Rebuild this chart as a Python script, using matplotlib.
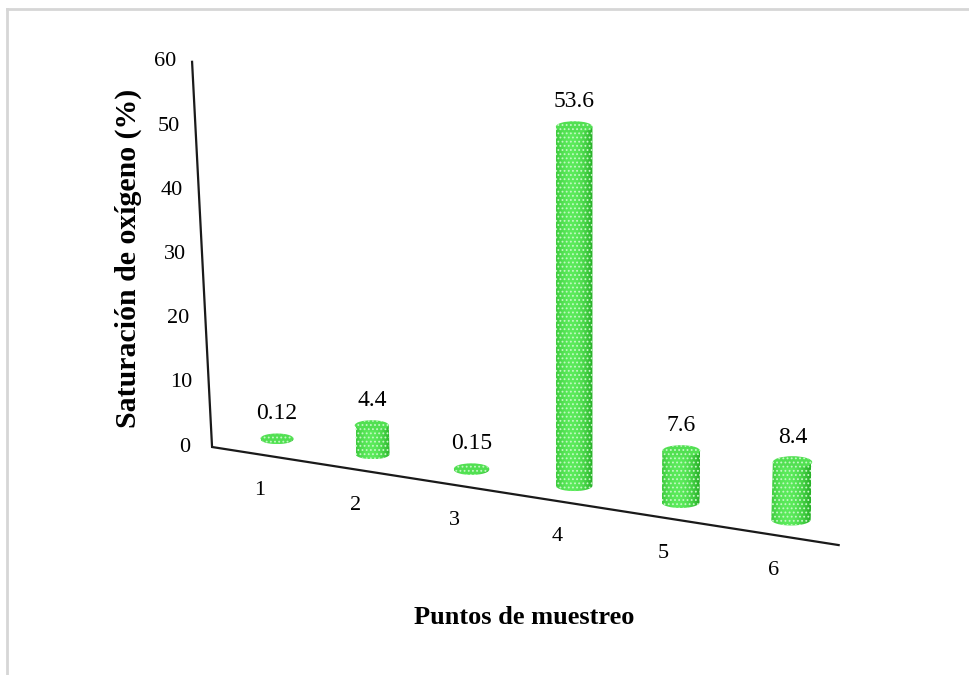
import numpy as np
import matplotlib.pyplot as plt
from matplotlib.patches import Ellipse, PathPatch
from matplotlib.path import Path

puntos = ['1', '2', '3', '4', '5', '6']
saturacion = [0.12, 4.4, 0.15, 53.6, 7.6, 8.4]
y_ticks = [0, 10, 20, 30, 40, 50, 60]

plt.rcParams['font.family'] = ['Liberation Serif', 'DejaVu Serif']
plt.rcParams['hatch.linewidth'] = 0.8

DOTS = '#c4f8c4'

# simple perspective for the 3-D floor: category u, value v, depth in px
K = 0.017
A = 90.745
X0 = 184.69
X_CORNER, Y_CORNER, SLOPE = 212, 447, 0.1565
U_WALL, U_END = 0.3, 6.42
DEPTH = 18


def g(u):
    return u / (1 - K * u)


def proj(u, v, depth=0.0):
    xb = X0 + A * g(u)
    lean = -0.333 * (4 - u) / 3.7
    scale = 6.42 + 0.075 * (u - U_WALL)
    return xb + lean * v, Y_CORNER + SLOPE * (xb - X_CORNER) - depth - scale * v


fig = plt.figure(figsize=(9.69, 6.75), dpi=100)
ax = fig.add_axes([0, 0, 1, 1])
ax.axis('off')

# light frame on top and left
ax.plot([7, 969], [9, 9], color='#d6d6d6', lw=2)
ax.plot([7, 7], [9, 675], color='#d6d6d6', lw=2)

# axes: vertical wall edge and floor front edge
x_top, y_top = proj(U_WALL, y_ticks[-1])
x_c, y_c = proj(U_WALL, 0)
x_e, y_e = proj(U_END, 0)
ax.plot([x_top, x_c, x_e], [y_top, y_c, y_e], color='#1a1a1a', lw=1.6,
        solid_joinstyle='miter')

for t in y_ticks:
    tx, ty = proj(U_WALL, t)
    ax.text(tx - 27, ty, str(t), ha='center', va='center', fontsize=16)

# horizontal shading across a cylinder body
prof = np.linspace(-1, 1, 64)
light = np.clip(1 - ((prof + 0.15) / 1.1) ** 2, 0, 1)
dark = np.array([0.16, 0.70, 0.16])
bright = np.array([0.36, 0.92, 0.36])
shade = (dark[None, :] + (bright - dark)[None, :] * light[:, None])[None, :, :]

for i, (lab, val) in enumerate(zip(puntos, saturacion)):
    u = i + 1
    bx, by = proj(u, 0, DEPTH)
    tx, ty = proj(u, val, DEPTH)
    w = 0.35 * A / (1 - K * u) ** 2
    h = 0.3 * w

    t = np.linspace(np.pi, 0, 40)
    verts = [(tx - w / 2, ty)]
    verts += list(zip(bx + w / 2 * np.cos(t), by + h / 2 * np.sin(t)))
    verts += [(tx + w / 2, ty), (tx - w / 2, ty)]
    body = PathPatch(Path(verts), facecolor='none', edgecolor='none')
    ax.add_patch(body)
    im = ax.imshow(shade, extent=(bx - w / 2, bx + w / 2, by + h / 2, ty),
                   aspect='auto', interpolation='bilinear', zorder=2)
    im.set_clip_path(body)
    ax.add_patch(PathPatch(Path(verts), facecolor=(0, 0, 0, 0), edgecolor=DOTS,
                           hatch='....', lw=0, zorder=3))
    ax.add_patch(Ellipse((tx, ty), w, h, facecolor='#52e052', edgecolor=DOTS,
                         hatch='....', lw=0, zorder=4))

    ax.text(tx, ty - 25, f'{val:g}', ha='center', va='center', fontsize=17)

    cx, cy = proj(u, 0)
    ax.text(cx - 17, cy + 33, lab, ha='center', va='center', fontsize=16)

ax.text(128, 258, 'Saturación de oxígeno (%)', rotation=90, ha='center',
        va='center', fontsize=21.5, fontweight='bold')
ax.text(524, 617, 'Puntos de muestreo', ha='center', va='center',
        fontsize=19, fontweight='bold')

ax.set_xlim(0, 969)
ax.set_ylim(675, 0)
fig.savefig('out.png', dpi=100, facecolor='white')
